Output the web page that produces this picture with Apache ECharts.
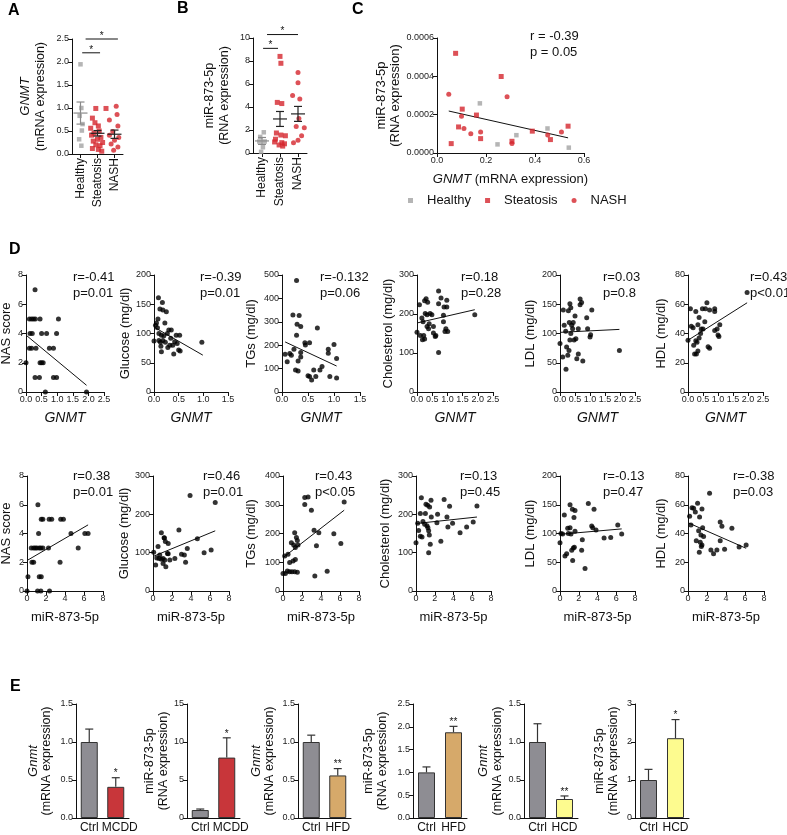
<!DOCTYPE html>
<html>
<head>
<meta charset="utf-8">
<script src="https://cdn.jsdelivr.net/npm/echarts@6/dist/echarts.min.js"></script>
<style>
  html, body { margin: 0; padding: 0; background: #fff; }
  #chart { width: 787px; height: 835px; }
</style>
</head>
<body>
<div id="chart"></div>
<script>
const FONT = '"Liberation Sans", Arial, sans-serif';
const RED = '#d4262d', GREY = '#a3a3a3';

// ---- A: GNMT mRNA by group (value, x jitter in category units)
const groups = ['Healthy', 'Steatosis', 'NASH'];
const aHealthy = [1.95, 1.0, 0.83, 0.65, 0.51, 0.32, 0.18];
const aHealthyJit = [0.0, 0.05, -0.05, 0.12, 0.08, -0.08, 0.05];
const aSteatosis = [0.99, 0.99, 0.78, 0.68, 0.61, 0.56, 0.5, 0.45, 0.41, 0.36, 0.32, 0.28, 0.25, 0.2, 0.18, 0.12, 0.1, 0.06];
const aSteatosisJit = [-0.1, 0.5, -0.3, -0.15, 0.05, -0.4, 0.1, -0.2, -0.35, 0.2, 0.0, -0.25, 0.3, -0.1, 0.15, -0.3, 0.05, 0.25];
const aNash = [1.04, 0.86, 0.74, 0.61, 0.49, 0.41, 0.36, 0.3, 0.22, 0.15, 0.08];
const aNashJit = [0.1, 0.15, -0.3, 0.2, -0.1, -0.3, 0.25, 0.0, -0.2, 0.2, -0.05];
const aMean = [0.89, 0.45, 0.43];
const aSem = [0.24, 0.06, 0.09];
const aSig = [[0.1, 1.15, 2.2], [0.3, 2.2, 2.5]];

// ---- B: miR-873-5p by group
const bHealthy = [1.8, 1.4, 1.0, 1.0, 0.5, 0.1];
const bHealthyJit = [0.1, -0.1, 0.15, -0.15, 0.05, -0.05];
const bSteatosis = [8.4, 7.8, 4.4, 4.3, 1.74, 1.56, 1.5, 1.2, 0.96, 0.9, 0.8, 0.7, 0.6];
const bSteatosisJit = [0.0, 0.05, -0.15, 0.1, -0.2, 0.05, 0.3, -0.25, -0.3, 0.1, 0.25, -0.05, 0.15];
const bNash = [7.0, 6.1, 5.0, 4.7, 3.0, 2.3, 2.2, 1.5, 1.1, 0.9];
const bNashJit = [0.0, 0.0, -0.3, 0.1, 0.05, -0.1, 0.35, 0.2, 0.0, -0.25];
const bMean = [1.05, 2.96, 3.4];
const bSem = [0.3, 0.65, 0.65];
const bSig = [[0.06, 0.89, 9.1], [0.28, 2.0, 10.3]];

// ---- C: miR-873-5p vs GNMT
const cHealthy = [[0.175, 0.000259], [0.247, 0.000045], [0.324, 0.000093], [0.451, 0.000128], [0.538, 0.000028]];
const cSteatosis = [[0.076, 0.00052], [0.058, 0.000049], [0.103, 0.000229], [0.088, 0.000136], [0.161, 0.000198], [0.178, 0.000075], [0.262, 0.000399], [0.306, 0.000061], [0.389, 0.000114], [0.463, 0.00007], [0.535, 0.00014]];
const cNash = [[0.048, 0.000306], [0.10, 0.000192], [0.11, 0.000128], [0.138, 0.000101], [0.178, 0.00011], [0.286, 0.000294], [0.306, 0.000049], [0.452, 0.000094], [0.508, 0.00011]];
const cFit = [[0.048, 0.000219], [0.535, 0.000079]];

// ---- D: clinical parameters vs GNMT (top) and miR-873-5p (bottom)
const gnmtNas = [[0.29,7],[0,2],[0.11,5],[0.18,5],[0.24,5],[0.3,5],[0.45,5],[1.04,5],[0.13,4],[0.2,4],[0.5,4],[0.66,4],[0.98,4],[0.11,3],[0.18,3],[0.32,3],[0.75,3],[0.88,3],[0.45,2],[0.5,2],[0.55,2],[0.29,1],[0.43,1],[0.88,1],[0.98,1],[0.62,0],[1.94,0]];
const gnmtNasFit = [[0, 3.89], [1.94, 0.46]];
const gnmtGlu = [[0.0,87],[0.03,114],[0.05,118],[0.07,110],[0.08,125],[0.09,161],[0.10,100],[0.10,88],[0.12,142],[0.13,85],[0.14,78],[0.15,97],[0.15,69],[0.17,153],[0.18,140],[0.18,88],[0.20,96],[0.22,118],[0.23,85],[0.25,137],[0.27,100],[0.28,76],[0.30,106],[0.32,80],[0.34,92],[0.35,106],[0.38,80],[0.40,65],[0.42,86],[0.45,97],[0.47,83],[0.50,72],[0.52,97],[0.53,70],[0.97,85]];
const gnmtGluFit = [[0, 111], [0.99, 63]];
const gnmtTg = [[0.28,476],[0.21,329],[0.33,327],[0.29,290],[0.36,280],[0.28,243],[0.06,161],[0.15,164],[0.18,157],[0.10,129],[0.23,183],[0.26,94],[0.31,90],[0.31,133],[0.36,150],[0.36,169],[0.44,211],[0.45,201],[0.53,211],[0.68,273],[0.50,69],[0.53,66],[0.57,51],[0.61,94],[0.65,66],[0.73,94],[0.77,109],[0.89,183],[0.89,166],[1.0,203],[1.05,143],[0.92,66],[1.05,60]];
const gnmtTgFit = [[0.06, 214], [1.05, 111]];
const gnmtChol = [[0,153],[0.08,224],[0.11,145],[0.16,190],[0.18,134],[0.25,234],[0.27,201],[0.22,145],[0.25,136],[0.30,239],[0.33,168],[0.38,162],[0.33,198],[0.40,175],[0.43,201],[0.49,198],[0.54,151],[0.54,168],[0.60,142],[0.71,259],[0.71,226],[0.79,241],[0.71,101],[0.89,218],[0.87,197],[0.87,180],[0.92,155],[0.98,235],[0.98,218],[0.95,162],[1.01,155],[1.90,198],[0.20,180],[0.35,230],[0.62,145]];
const gnmtCholFit = [[0, 177], [1.9, 211]];
const gnmtLdl = [[0,83],[0.09,60],[0.11,140],[0.14,114],[0.19,104],[0.2,39],[0.22,77],[0.26,63],[0.28,139],[0.3,71],[0.31,119],[0.33,151],[0.33,89],[0.36,100],[0.36,144],[0.39,114],[0.42,108],[0.44,119],[0.47,89],[0.5,130],[0.53,91],[0.56,57],[0.61,108],[0.61,65],[0.67,159],[0.67,149],[0.72,153],[0.76,53],[0.89,127],[0.92,108],[1.0,94],[1.02,98],[1.06,140],[1.98,71]];
const gnmtLdlFit = [[0, 102], [1.98, 107]];
const gnmtHdl = [[0,35.4],[0.08,57],[0.11,45],[0.17,44],[0.19,32],[0.22,26],[0.26,55],[0.26,35],[0.28,26],[0.3,34],[0.33,46],[0.33,28],[0.37,51],[0.37,37],[0.42,40],[0.44,43],[0.48,57],[0.5,43],[0.56,48],[0.58,57],[0.63,61],[0.67,31],[0.72,30],[0.72,56],[0.89,57],[0.89,55],[0.89,42],[0.97,43],[1.0,39],[1.03,38],[1.06,46],[1.97,68]];
const gnmtHdlFit = [[0, 35.4], [1.97, 61]];

const mirNas = [[1.15,6],[1.5,5],[1.67,5],[2.33,5],[2.6,5],[3.55,5],[3.83,5],[1.22,4],[4.63,4],[6.09,4],[6.43,4],[0.45,3],[0.7,3],[0.87,3],[1.04,3],[1.29,3],[1.46,3],[1.67,3],[2.26,3],[5.39,3],[0.52,2],[0.7,2],[3.48,2],[0.1,1],[1.29,1],[1.5,1],[0,0],[1.11,0],[1.46,0],[2.37,0]];
const mirNasFit = [[0, 2.12], [6.43, 4.6]];
const mirGlu = [[3.9,249],[6.55,231],[2.73,159],[4.67,136],[0.88,152],[1.17,139],[1.3,129],[1.6,124],[0.07,101],[0.53,116],[0.28,68],[0.64,85],[0.88,83],[1.06,85],[1.24,81],[1.35,63],[1.52,98],[1.77,81],[2.3,85],[3.0,96],[3.3,94],[3.43,75],[3.61,111],[5.38,100],[6.12,107],[0.71,94],[1.06,72],[1.2,138],[0.4,86],[1.6,97]];
const mirGluFit = [[0, 90], [6.55, 157]];
const mirTg = [[2.29,325],[2.64,327],[2.29,301],[2.99,281],[6.44,310],[3.27,211],[3.77,203],[3.52,157],[3.35,52],[4.65,69],[5.35,199],[6.09,165],[1.23,203],[1.41,186],[1.51,176],[1.58,160],[1.3,151],[0.88,168],[1.13,160],[0.18,122],[0.53,128],[0.7,99],[1.06,104],[1.3,110],[0,61],[0.25,61],[0.46,70],[0.7,67],[0.95,67],[1.23,67],[1.51,65]];
const mirTgFit = [[0, 116], [6.44, 281]];
const mirChol = [[0,126],[0.18,177],[0.28,158],[0.46,202],[0.57,243],[0.46,143],[0.64,141],[0.74,181],[0.92,174],[1.0,202],[1.06,226],[1.24,224],[1.17,170],[1.27,165],[1.35,157],[1.35,100],[1.42,146],[1.45,219],[1.6,237],[1.63,193],[1.52,122],[2.3,200],[2.23,178],[2.65,130],[3.0,239],[3.3,193],[3.4,167],[3.58,221],[3.9,177],[4.7,152],[5.4,167],[6.1,180],[6.5,222]];
const mirCholFit = [[0, 176], [6.5, 193]];
const mirLdl = [[0,84],[0.1,100],[0.28,99],[0.46,132],[0.53,61],[0.71,65],[0.82,109],[0.89,100],[1.07,150],[1.07,110],[1.17,99],[1.25,71],[1.32,142],[1.35,53],[1.42,75],[1.49,128],[1.53,76],[1.6,140],[1.6,104],[2.31,71],[2.38,89],[2.67,39],[3.02,152],[3.38,113],[3.49,110],[3.63,142],[3.84,106],[4.7,92],[5.41,93],[6.16,115],[6.58,99]];
const mirLdlFit = [[0, 98.6], [6.58, 108]];
const mirHdl = [[0.17,52],[0.31,46],[0.42,58],[0.59,57.5],[0.77,55],[0.87,35],[1.01,61],[1.12,42],[1.19,27],[1.22,51.5],[1.29,34],[1.36,39],[1.4,31],[1.47,32],[1.47,57],[1.54,44],[1.64,38],[2.27,68],[2.41,28.5],[2.69,26],[3.04,28.5],[3.39,35],[3.39,48],[3.57,45],[3.85,29],[4.62,43.6],[5.38,30.6],[6.12,32]];
const mirHdlFit = [[0, 47.5], [6.12, 29.7]];

// ---- E: mouse models (Ctrl vs diet)
const eMcdd = ['Ctrl', 'MCDD'], eHfd = ['Ctrl', 'HFD'], eHcd = ['Ctrl', 'HCD'];
const gnmtMcdd = [1.0, 0.41], gnmtMcddErr = [0.17, 0.12];
const mirMcdd = [1.05, 7.95], mirMcddErr = [0.13, 2.6];
const gnmtHfd = [1.0, 0.56], gnmtHfdErr = [0.09, 0.09];
const mirHfd = [1.0, 1.88], mirHfdErr = [0.12, 0.13];
const gnmtHcd = [1.0, 0.25], gnmtHcdErr = [0.24, 0.04];
const mirHcd = [1.0, 2.1], mirHcdErr = [0.28, 0.49];

// ---------------------------------------------------------------
const grid = [], xAxis = [], yAxis = [], series = [], graphic = [];

function merge(a, b) {
  const o = Object.assign({}, a);
  for (const k in b) {
    if (b[k] && typeof b[k] === 'object' && !Array.isArray(b[k]) && a[k] && typeof a[k] === 'object') o[k] = merge(a[k], b[k]);
    else o[k] = b[k];
  }
  return o;
}

const axisBase = {
  axisLine: { show: true, onZero: false, lineStyle: { color: '#111', width: 1 } },
  axisTick: { show: true, length: 4, lineStyle: { color: '#111' } },
  axisLabel: { fontSize: 9, color: '#222', margin: 3, fontFamily: FONT, showMinLabel: true, showMaxLabel: true },
  splitLine: { show: false },
  nameLocation: 'middle',
  nameTextStyle: { fontFamily: FONT, fontSize: 13, color: '#111' }
};
const italic = { i: { fontStyle: 'italic', fontFamily: FONT, fontSize: 13, color: '#111' } };

function panel(box, xa, ya) {
  const i = grid.length;
  grid.push({ left: box[0], top: box[1], width: box[2], height: box[3], outerBoundsMode: 'none', containLabel: false });
  xAxis.push(merge(axisBase, Object.assign({ gridIndex: i }, xa)));
  yAxis.push(merge(axisBase, Object.assign({ gridIndex: i }, ya)));
  return i;
}

function dots(i, data, opt) {
  series.push(Object.assign({ type: 'scatter', xAxisIndex: i, yAxisIndex: i, data: data, symbolSize: 5,
    itemStyle: { color: '#000' }, silent: true, z: 3 }, opt));
}
function fitLine(i, data) {
  series.push({ type: 'line', xAxisIndex: i, yAxisIndex: i, data: data, symbol: 'none',
    lineStyle: { color: '#111', width: 1 }, silent: true, z: 2 });
}
function note(x, y, lines) {
  lines.forEach((t, k) => graphic.push({ type: 'text', x: x, y: y + k * 16,
    style: { text: t, font: '13px ' + FONT, fill: '#111', verticalAlign: 'middle' } }));
}
function label(t, x, y) {
  graphic.push({ type: 'text', x: x, y: y, style: { text: t, font: 'bold 16px ' + FONT, fill: '#000', verticalAlign: 'middle' } });
}
function jitter(vals, jit, cat) { return vals.map((v, k) => [cat + jit[k], v]); }

function meanSem(i, means, sems, colors) {
  series.push({ type: 'custom', xAxisIndex: i, yAxisIndex: i, silent: true, clip: false, z: 5,
    data: means.map((m, k) => [k, m, sems[k]]),
    renderItem(p, api) {
      const c = api.coord([api.value(0), api.value(1)]);
      const hi = api.coord([api.value(0), api.value(1) + api.value(2)]);
      const lo = api.coord([api.value(0), api.value(1) - api.value(2)]);
      const col = colors[p.dataIndex];
      const st = { stroke: col, lineWidth: 1.2 };
      return { type: 'group', children: [
        { type: 'line', shape: { x1: c[0] - 7, y1: c[1], x2: c[0] + 7, y2: c[1] }, style: st },
        { type: 'line', shape: { x1: c[0], y1: hi[1], x2: c[0], y2: lo[1] }, style: st },
        { type: 'line', shape: { x1: c[0] - 4, y1: hi[1], x2: c[0] + 4, y2: hi[1] }, style: st },
        { type: 'line', shape: { x1: c[0] - 4, y1: lo[1], x2: c[0] + 4, y2: lo[1] }, style: st }
      ] };
    } });
}
function sigBars(i, bars) {
  series.push({ type: 'custom', xAxisIndex: i, yAxisIndex: i, silent: true, clip: false, z: 5, data: bars,
    renderItem(p, api) {
      const a = api.coord([api.value(0), api.value(2)]);
      const b = api.coord([api.value(1), api.value(2)]);
      return { type: 'group', children: [
        { type: 'line', shape: { x1: a[0], y1: a[1], x2: b[0], y2: b[1] }, style: { stroke: '#111', lineWidth: 1 } },
        { type: 'text', x: (a[0] + b[0]) / 2, y: a[1] + 2, style: { text: '*', font: '10px ' + FONT, fill: '#111', align: 'center', verticalAlign: 'bottom' } }
      ] };
    } });
}

function groupPanel(box, yMax, yStep, yDec, yName, gap, sets, means, sems, sig) {
  const i = panel(box,
    { type: 'value', min: -0.5, max: 2.5,
      axisLabel: { customValues: [0, 1, 2], formatter: v => groups[v], rotate: 90, fontSize: 12, color: '#111', margin: 4 },
      axisTick: { customValues: [0, 1, 2] } },
    { type: 'value', min: 0, max: yMax, interval: yStep,
      axisLabel: { formatter: v => v.toFixed(yDec) },
      name: yName, nameGap: gap, nameTextStyle: { fontSize: 12.5, lineHeight: 15, rich: italic } });
  dots(i, sets[0], { name: 'Healthy', symbol: 'rect', symbolSize: 4.5, itemStyle: { color: GREY } });
  dots(i, sets[1], { name: 'Steatosis', symbol: 'rect', symbolSize: 5, itemStyle: { color: RED } });
  dots(i, sets[2], { name: 'NASH', symbol: 'circle', symbolSize: 5, itemStyle: { color: RED } });
  meanSem(i, means, sems, ['#8a8a8a', '#222', '#222']);
  sigBars(i, sig);
}

// A
groupPanel([72, 39, 51, 115], 2.5, 0.5, 1, '{i|GNMT}\n(mRNA expression)', 24,
  [jitter(aHealthy, aHealthyJit, 0), jitter(aSteatosis, aSteatosisJit, 1), jitter(aNash, aNashJit, 2)], aMean, aSem, aSig);
// B
groupPanel([253, 38, 54, 115], 10, 2, 0, 'miR-873-5p\n(RNA expression)', 21,
  [jitter(bHealthy, bHealthyJit, 0), jitter(bSteatosis, bSteatosisJit, 1), jitter(bNash, bNashJit, 2)], bMean, bSem, bSig);

// C
const ic = panel([437, 38, 147, 115],
  { type: 'value', min: 0, max: 0.6, interval: 0.2, axisLabel: { formatter: v => v.toFixed(1) },
    name: '{i|GNMT} (mRNA expression)', nameGap: 20, nameTextStyle: { fontSize: 13, rich: italic } },
  { type: 'value', min: 0, max: 0.0006, interval: 0.0002, axisLabel: { formatter: v => v.toFixed(4) },
    name: 'miR-873-5p\n(RNA expression)', nameGap: 34, nameTextStyle: { fontSize: 13, lineHeight: 14 } });
dots(ic, cHealthy, { name: 'Healthy', symbol: 'rect', symbolSize: 4.5, itemStyle: { color: GREY } });
dots(ic, cSteatosis, { name: 'Steatosis', symbol: 'rect', symbolSize: 5, itemStyle: { color: RED } });
dots(ic, cNash, { name: 'NASH', symbol: 'circle', symbolSize: 5, itemStyle: { color: RED } });
fitLine(ic, cFit);
note(530, 36, ['r = -0.39', 'p = 0.05']);

// D
const dPanels = [
  { box: [26, 275, 78, 117], x: [2.5, 0.5, 1], y: [8, 2], yName: 'NAS score', gap: 13, pts: gnmtNas, fit: gnmtNasFit, txt: [73, ['r=-0.41', 'p=0.01']] },
  { box: [154, 275, 74, 117], x: [1.5, 0.5, 1], y: [200, 50], yName: 'Glucose (mg/dl)', gap: 22, pts: gnmtGlu, fit: gnmtGluFit, txt: [200, ['r=-0.39', 'p=0.01']] },
  { box: [282, 275, 78, 117], x: [1.5, 0.5, 1], y: [500, 100], yName: 'TGs (mg/dl)', gap: 24, pts: gnmtTg, fit: gnmtTgFit, txt: [320, ['r=-0.132', 'p=0.06']] },
  { box: [417, 275, 76, 117], x: [2.5, 0.5, 1], y: [300, 100], yName: 'Cholesterol (mg/dl)', gap: 22, pts: gnmtChol, fit: gnmtCholFit, txt: [461, ['r=0.18', 'p=0.28']] },
  { box: [560, 275, 75, 117], x: [2.5, 0.5, 1], y: [200, 50], yName: 'LDL (mg/dl)', gap: 23, pts: gnmtLdl, fit: gnmtLdlFit, txt: [603, ['r=0.03', 'p=0.8']] },
  { box: [688, 275, 75, 117], x: [2.5, 0.5, 1], y: [80, 20], yName: 'HDL (mg/dl)', gap: 20, pts: gnmtHdl, fit: gnmtHdlFit, txt: [750, ['r=0.43', 'p<0.01']] },
  { box: [27, 476, 76, 115], x: [8, 2, 0], y: [8, 2], yName: 'NAS score', gap: 14, pts: mirNas, fit: mirNasFit, txt: [73, ['r=0.38', 'p=0.01']] },
  { box: [153, 476, 76, 115], x: [8, 2, 0], y: [300, 100], yName: 'Glucose (mg/dl)', gap: 22, pts: mirGlu, fit: mirGluFit, txt: [203, ['r=0.46', 'p=0.01']] },
  { box: [283, 476, 76, 115], x: [8, 2, 0], y: [400, 100], yName: 'TGs (mg/dl)', gap: 25, pts: mirTg, fit: mirTgFit, txt: [315, ['r=0.43', 'p<0.05']] },
  { box: [416, 476, 75, 115], x: [8, 2, 0], y: [300, 100], yName: 'Cholesterol (mg/dl)', gap: 24, pts: mirChol, fit: mirCholFit, txt: [460, ['r=0.13', 'p=0.45']] },
  { box: [560, 476, 75, 115], x: [8, 2, 0], y: [200, 50], yName: 'LDL (mg/dl)', gap: 23, pts: mirLdl, fit: mirLdlFit, txt: [603, ['r=-0.13', 'p=0.47']] },
  { box: [688, 476, 76, 115], x: [8, 2, 0], y: [80, 20], yName: 'HDL (mg/dl)', gap: 20, pts: mirHdl, fit: mirHdlFit, txt: [733, ['r=-0.38', 'p=0.03']] }
];
dPanels.forEach((d, k) => {
  const top = k < 6;
  const i = panel(d.box,
    { type: 'value', min: 0, max: d.x[0], interval: d.x[1], axisLabel: { formatter: v => v.toFixed(d.x[2]) },
      name: top ? '{i|GNMT}' : 'miR-873-5p', nameGap: top ? 19 : 20,
      nameTextStyle: { fontSize: top ? 14 : 13, rich: { i: { fontStyle: 'italic', fontFamily: FONT, fontSize: 14, color: '#111' } } } },
    { type: 'value', min: 0, max: d.y[0], interval: d.y[1], name: d.yName, nameGap: d.gap });
  dots(i, d.pts);
  fitLine(i, d.fit);
  note(d.txt[0], top ? 277 : 476, d.txt[1]);
});

// E
function barPanel(box, cats, vals, errs, stars, fill, yMax, yStep, yDec, yName, gap) {
  const i = panel(box,
    { type: 'category', axisTick: { show: false },
      // the long diet label sits slightly right of its bar, as in the figure
      data: cats.map((c, k) => k ? { value: c, textStyle: { padding: [0, 0, 0, c.length > 3 ? 8 : 0] } } : c),
      axisLabel: { interval: 0, hideOverlap: false, fontSize: 12, color: '#111', margin: 4 } },
    { type: 'value', min: 0, max: yMax, interval: yStep, axisLabel: { formatter: v => v.toFixed(yDec) },
      name: yName, nameGap: gap, nameTextStyle: { fontSize: 12.5, lineHeight: 14, rich: italic } });
  series.push({ type: 'bar', xAxisIndex: i, yAxisIndex: i, barWidth: 17, silent: true,
    data: vals.map((v, k) => ({ value: v, itemStyle: { color: k ? fill : '#8e8d93', borderColor: '#333', borderWidth: 1 } })) });
  series.push({ type: 'custom', xAxisIndex: i, yAxisIndex: i, silent: true, clip: false, z: 4,
    data: vals.map((v, k) => [k, v, errs[k]]),
    renderItem(p, api) {
      const b = api.coord([api.value(0), api.value(1)]);
      const t = api.coord([api.value(0), api.value(1) + api.value(2)]);
      const st = { stroke: '#333', lineWidth: 1.2 };
      return { type: 'group', children: [
        { type: 'line', shape: { x1: b[0], y1: b[1], x2: t[0], y2: t[1] }, style: st },
        { type: 'line', shape: { x1: t[0] - 4, y1: t[1], x2: t[0] + 4, y2: t[1] }, style: st },
        { type: 'text', x: t[0], y: t[1] + 1, style: { text: stars[p.dataIndex], font: '10px ' + FONT, fill: '#111', align: 'center', verticalAlign: 'bottom' } }
      ] };
    } });
}
barPanel([76, 704, 53, 114], eMcdd, gnmtMcdd, gnmtMcddErr, ['', '*'], '#c8363a', 1.5, 0.5, 1, '{i|Gnmt}\n(mRNA expression)', 22);
barPanel([187, 704, 53, 114], eMcdd, mirMcdd, mirMcddErr, ['', '*'], '#c8363a', 15, 5, 0, 'miR-873-5p\n(RNA expression)', 12);
barPanel([298, 704, 53, 114], eHfd, gnmtHfd, gnmtHfdErr, ['', '**'], '#d6a96a', 1.5, 0.5, 1, '{i|Gnmt}\n(mRNA expression)', 21);
barPanel([413, 704, 54, 114], eHfd, mirHfd, mirHfdErr, ['', '**'], '#d6a96a', 2.5, 0.5, 1, 'miR-873-5p\n(RNA expression)', 23);
barPanel([524, 704, 54, 114], eHcd, gnmtHcd, gnmtHcdErr, ['', '**'], '#fdfb8f', 1.5, 0.5, 1, '{i|Gnmt}\n(mRNA expression)', 16);
barPanel([635, 704, 54, 114], eHcd, mirHcd, mirHcdErr, ['', '*'], '#fdfb8f', 3, 1, 0, 'miR-873-5p\n(mRNA expression)', 14);

label('A', 8, 11);
label('B', 177, 9);
label('C', 352, 10);
label('D', 9, 250);
label('E', 10, 687);

const chart = echarts.init(document.getElementById('chart'), null, { renderer: 'canvas' });
chart.setOption({
  animation: false,
  backgroundColor: '#fff',
  textStyle: { fontFamily: FONT },
  legend: {
    left: 403, top: 189, itemWidth: 5, itemHeight: 5, itemGap: 14,
    textStyle: { fontSize: 13, color: '#111', fontFamily: FONT, padding: [0, 0, 0, 9] },
    data: [{ name: 'Healthy', icon: 'rect' }, { name: 'Steatosis', icon: 'rect' }, { name: 'NASH', icon: 'circle' }],
    selectedMode: false
  },
  grid: grid, xAxis: xAxis, yAxis: yAxis, series: series, graphic: graphic
});
</script>
</body>
</html>
